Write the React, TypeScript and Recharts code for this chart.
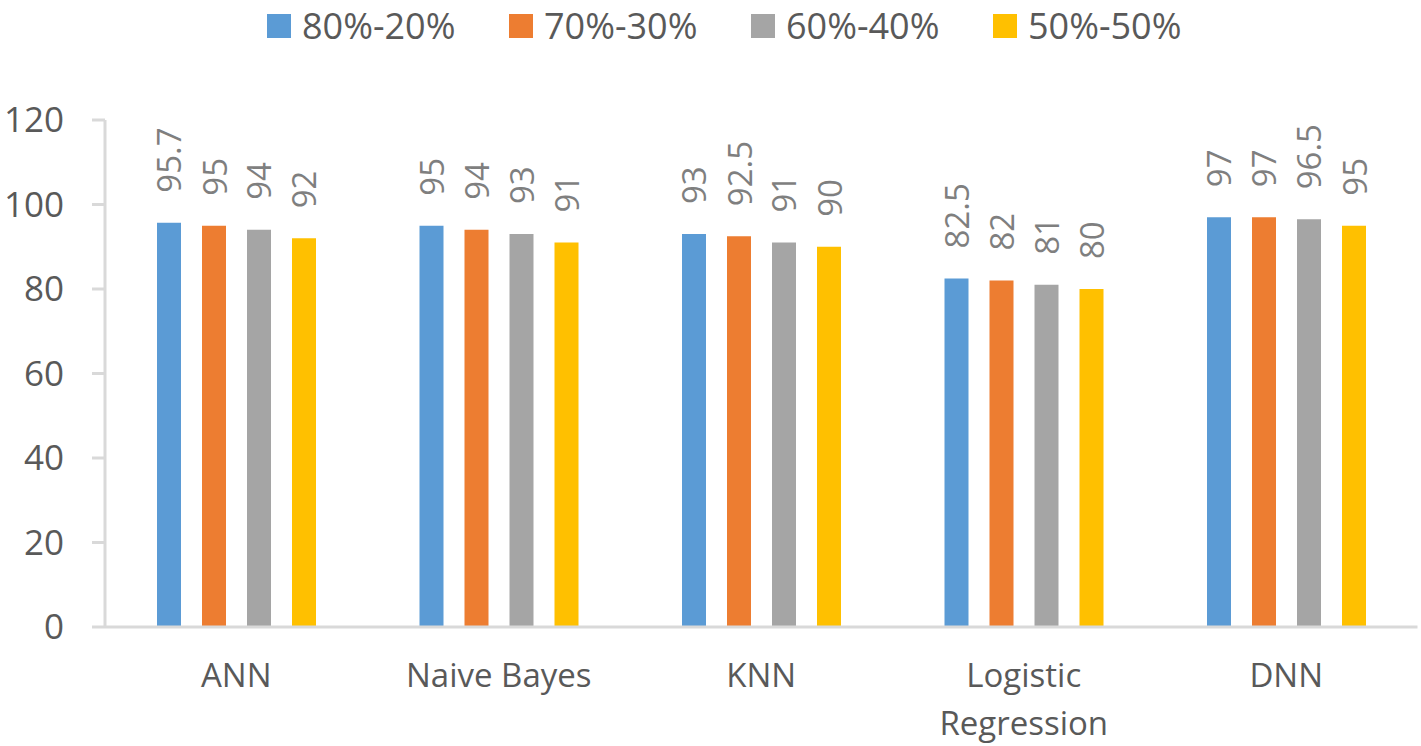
import React from 'react';
import { BarChart, Bar, XAxis, YAxis, Legend, LabelList } from 'recharts';

const categories = ['ANN', 'Naive Bayes', 'KNN', 'Logistic Regression', 'DNN'];
const split80 = [95.7, 95, 93, 82.5, 97];
const split70 = [95, 94, 92.5, 82, 97];
const split60 = [94, 93, 91, 81, 96.5];
const split50 = [92, 91, 90, 80, 95];
const yTicks = [0, 20, 40, 60, 80, 100, 120];

const seriesDefs = [
  { key: 's80', name: '80%-20%', color: '#5B9BD5', values: split80 },
  { key: 's70', name: '70%-30%', color: '#ED7D31', values: split70 },
  { key: 's60', name: '60%-40%', color: '#A5A5A5', values: split60 },
  { key: 's50', name: '50%-50%', color: '#FFC000', values: split50 },
];

const data = categories.map((c, i) => {
  const row: Record<string, string | number> = { name: c };
  seriesDefs.forEach((s) => {
    row[s.key] = s.values[i];
  });
  return row;
});

const FONT = '"Open Sans", "DejaVu Sans", sans-serif';

const CategoryTick = (props: any) => {
  const { x, y, payload } = props;
  const words = String(payload.value).split(' ');
  const lines = payload.value === 'Logistic Regression' ? words : [payload.value];
  return (
    <g>
      {lines.map((ln: string, i: number) => (
        <text
          key={i}
          x={x}
          y={y + 60 + i * 48}
          textAnchor="middle"
          fill="#595959"
          fontSize={33}
          fontFamily={FONT}
        >
          {ln}
        </text>
      ))}
    </g>
  );
};

const RotatedLabel = (props: any) => {
  const { x, y, width, value } = props;
  const cx = Number(x) + Number(width) / 2;
  const ty = Number(y) - 30;
  return (
    <text
      x={cx}
      y={ty}
      transform={`rotate(-90, ${cx}, ${ty})`}
      textAnchor="start"
      dominantBaseline="central"
      fill="#7F7F7F"
      fontSize={33}
      fontFamily={FONT}
    >
      {value}
    </text>
  );
};

const LegendContent = () => (
  <div
    style={{
      height: 52,
      display: 'flex',
      alignItems: 'center',
      paddingLeft: 267,
      boxSizing: 'border-box',
      fontFamily: FONT,
    }}
  >
    {seriesDefs.map((s) => (
      <div key={s.key} style={{ width: 242, display: 'flex', alignItems: 'center' }}>
        <div style={{ width: 24, height: 24, background: s.color, marginRight: 11 }} />
        <span style={{ fontSize: 36, color: '#595959', lineHeight: '52px' }}>{s.name}</span>
      </div>
    ))}
  </div>
);

export default function App() {
  return (
    <div style={{ position: 'absolute', left: 0, top: 0, width: 1421, height: 746, background: '#fff' }}>
      <BarChart
        width={1421}
        height={746}
        data={data}
        margin={{ top: 68, right: 3.5, bottom: 0, left: 0 }}
        barGap={21}
        barSize={24}
      >
        <Legend
          verticalAlign="top"
          align="left"
          content={<LegendContent />}
          wrapperStyle={{ top: 0, left: 0, width: 1421, height: 52 }}
        />
        <XAxis
          dataKey="name"
          height={119}
          axisLine={{ stroke: '#D9D9D9', strokeWidth: 3 }}
          tickLine={false}
          tickSize={0}
          tickMargin={0}
          interval={0}
          tick={<CategoryTick />}
        />
        <YAxis
          width={105}
          domain={[0, 120]}
          ticks={yTicks}
          interval={0}
          axisLine={{ stroke: '#D9D9D9', strokeWidth: 3 }}
          tickLine={{ stroke: '#D9D9D9', strokeWidth: 3 }}
          tickSize={13}
          tickMargin={28}
          tick={{ fill: '#595959', fontSize: 35, fontFamily: FONT }}
        />
        {seriesDefs.map((s) => (
          <Bar key={s.key} dataKey={s.key} name={s.name} fill={s.color} isAnimationActive={false}>
            <LabelList dataKey={s.key} content={<RotatedLabel />} />
          </Bar>
        ))}
      </BarChart>
    </div>
  );
}
